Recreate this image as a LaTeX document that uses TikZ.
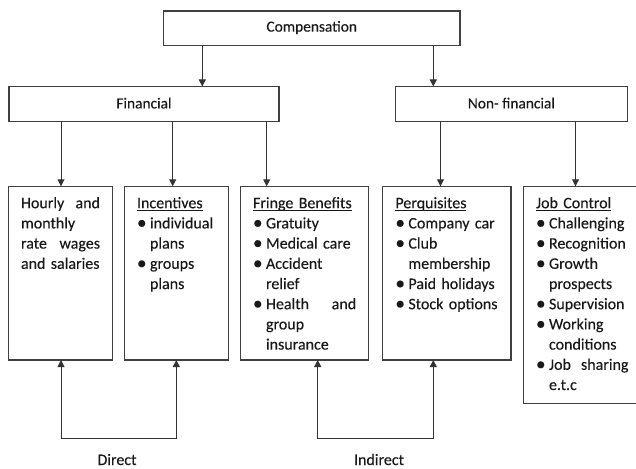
\documentclass[tikz,border=0pt]{standalone}
\usepackage{fontspec}
\setmainfont{Carlito}[FakeBold=0.25]
\usetikzlibrary{arrows.meta,calc}
\newsavebox\myulbox
\newcommand\myul[1]{\sbox\myulbox{#1}\rlap{\rule[-2.3pt]{\wd\myulbox}{0.8pt}}\usebox\myulbox}
\newcommand\bitem[1]{\makebox[13pt][l]{\raisebox{-0.4pt}{\scalebox{1.2}{\textbullet}}}\mbox{#1}}
\newcommand\cont[1]{\hspace*{13pt}\mbox{#1}}
\begin{document}
\begin{tikzpicture}[x=1pt,y=-1pt,
  box/.style={draw=black!75, line width=1.1pt, inner sep=0pt, outer sep=0pt, anchor=north west},
  head/.style={font=\fontsize{15.4}{19}\selectfont, text=black!90, inner sep=0pt},
  body/.style={font=\fontsize{16}{20.2}\selectfont, text=black!90, inner sep=0pt, align=left, anchor=north west},
  lab/.style={font=\fontsize{16}{20.2}\selectfont, text=black!90, inner sep=0pt, anchor=base},
  arr/.style={draw=black!80, line width=0.9pt, -{Triangle[length=7pt,width=7pt]}},
  arr2/.style={draw=black!80, line width=0.9pt, {Triangle[length=7pt,width=7pt]}-{Triangle[length=7pt,width=7pt]}}]
\useasboundingbox (0,0) rectangle (636,468);
% top boxes
\node[box, minimum width=296.5pt, minimum height=34.7pt] (comp) at (163.5,11) {};
\node[head] (compt) at ($(comp.center)+(0,-0.8)$) {Compensation};
\node[box, minimum width=270pt, minimum height=34.8pt] (fin) at (9,86.5) {};
\node[head] (fint) at ($(fin.center)+(0,-0.8)$) {Financial};
\node[box, minimum width=231.8pt, minimum height=34.8pt] (nfin) at (395.5,86.5) {};
\node[head] (nfint) at ($(nfin.center)+(0,-0.8)$) {Non- financial};
% level 3 boxes
\node[box, minimum width=104pt, minimum height=173.7pt] (b1) at (8.3,186.3) {};
\node[box, minimum width=104pt, minimum height=173.7pt] (b2) at (124.3,186.3) {};
\node[box, minimum width=128.2pt, minimum height=173.7pt] (b3) at (240.3,186.3) {};
\node[box, minimum width=128.3pt, minimum height=173.7pt] (b4) at (382.7,186.3) {};
\node[box, minimum width=117.5pt, minimum height=217pt] (b5) at (523.3,186.3) {};
% texts
\node[body, text width=79pt] (t1) at (20.8,193.86) {\strut Hourly\hfill and\\ monthly\\ rate\hfill wages\\ \mbox{and salaries}};
\node[body, text width=79pt] (t2) at (136.8,193.86) {\strut\myul{Incentives}\\ \bitem{individual}\\ \cont{plans}\\ \bitem{groups}\\ \cont{plans}};
\node[body, text width=103.2pt] (t3) at (252.8,193.86) {\strut\myul{Fringe Benefits}\\ \bitem{Gratuity}\\ \bitem{Medical care}\\ \bitem{Accident}\\ \cont{relief}\\ \makebox[13pt][l]{\raisebox{-0.4pt}{\scalebox{1.2}{\textbullet}}}Health\hfill and\\ \cont{group}\\ \cont{insurance}};
\node[body, text width=103.3pt] (t4) at (395.2,193.86) {\strut\myul{Perquisites}\\ \bitem{Company car}\\ \bitem{Club}\\ \cont{membership}\\ \bitem{Paid holidays}\\ \bitem{Stock options}};
\node[body, text width=92.5pt] (t5) at (535.8,193.86) {\strut\myul{Job Control}\\ \bitem{Challenging}\\ \bitem{Recognition}\\ \bitem{Growth}\\ \cont{prospects}\\ \bitem{Supervision}\\ \bitem{Working}\\ \cont{conditions}\\ \makebox[13pt][l]{\raisebox{-0.4pt}{\scalebox{1.2}{\textbullet}}}Job\hfill sharing\\ \cont{e.t.c}};
% x positions of connectors
\coordinate (xa) at (202.3,0);
\coordinate (xb) at (433.3,0);
\coordinate (x1) at (61,0);
\coordinate (x2) at (172.7,0);
\coordinate (x3) at (266.7,0);
\coordinate (x4) at (440.5,0);
\coordinate (x5) at (575.5,0);
\coordinate (d1) at (61,438);
\coordinate (d2) at (176.3,438);
\coordinate (i1) at (317.7,438);
\coordinate (i2) at (433.3,438);
% arrows
\draw[arr] (comp.south -| xa) -- (fin.north -| xa);
\draw[arr] (comp.south -| xb) -- (nfin.north -| xb);
\draw[arr] (fin.south -| x1) -- (b1.north -| x1);
\draw[arr] (fin.south -| x2) -- (b2.north -| x2);
\draw[arr] (fin.south -| x3) -- (b3.north -| x3);
\draw[arr] (nfin.south -| x4) -- (b4.north -| x4);
\draw[arr] (nfin.south -| x5) -- (b5.north -| x5);
\draw[arr2] (b1.south -| d1) -- (d1) -- (d2) -- (b2.south -| d2);
\draw[arr2] (b3.south -| i1) -- (i1) -- (i2) -- (b4.south -| i2);
% labels
\node[lab] (direct) at (117,465) {Direct};
\node[lab] (indirect) at (379,465) {Indirect};
\end{tikzpicture}
\end{document}
